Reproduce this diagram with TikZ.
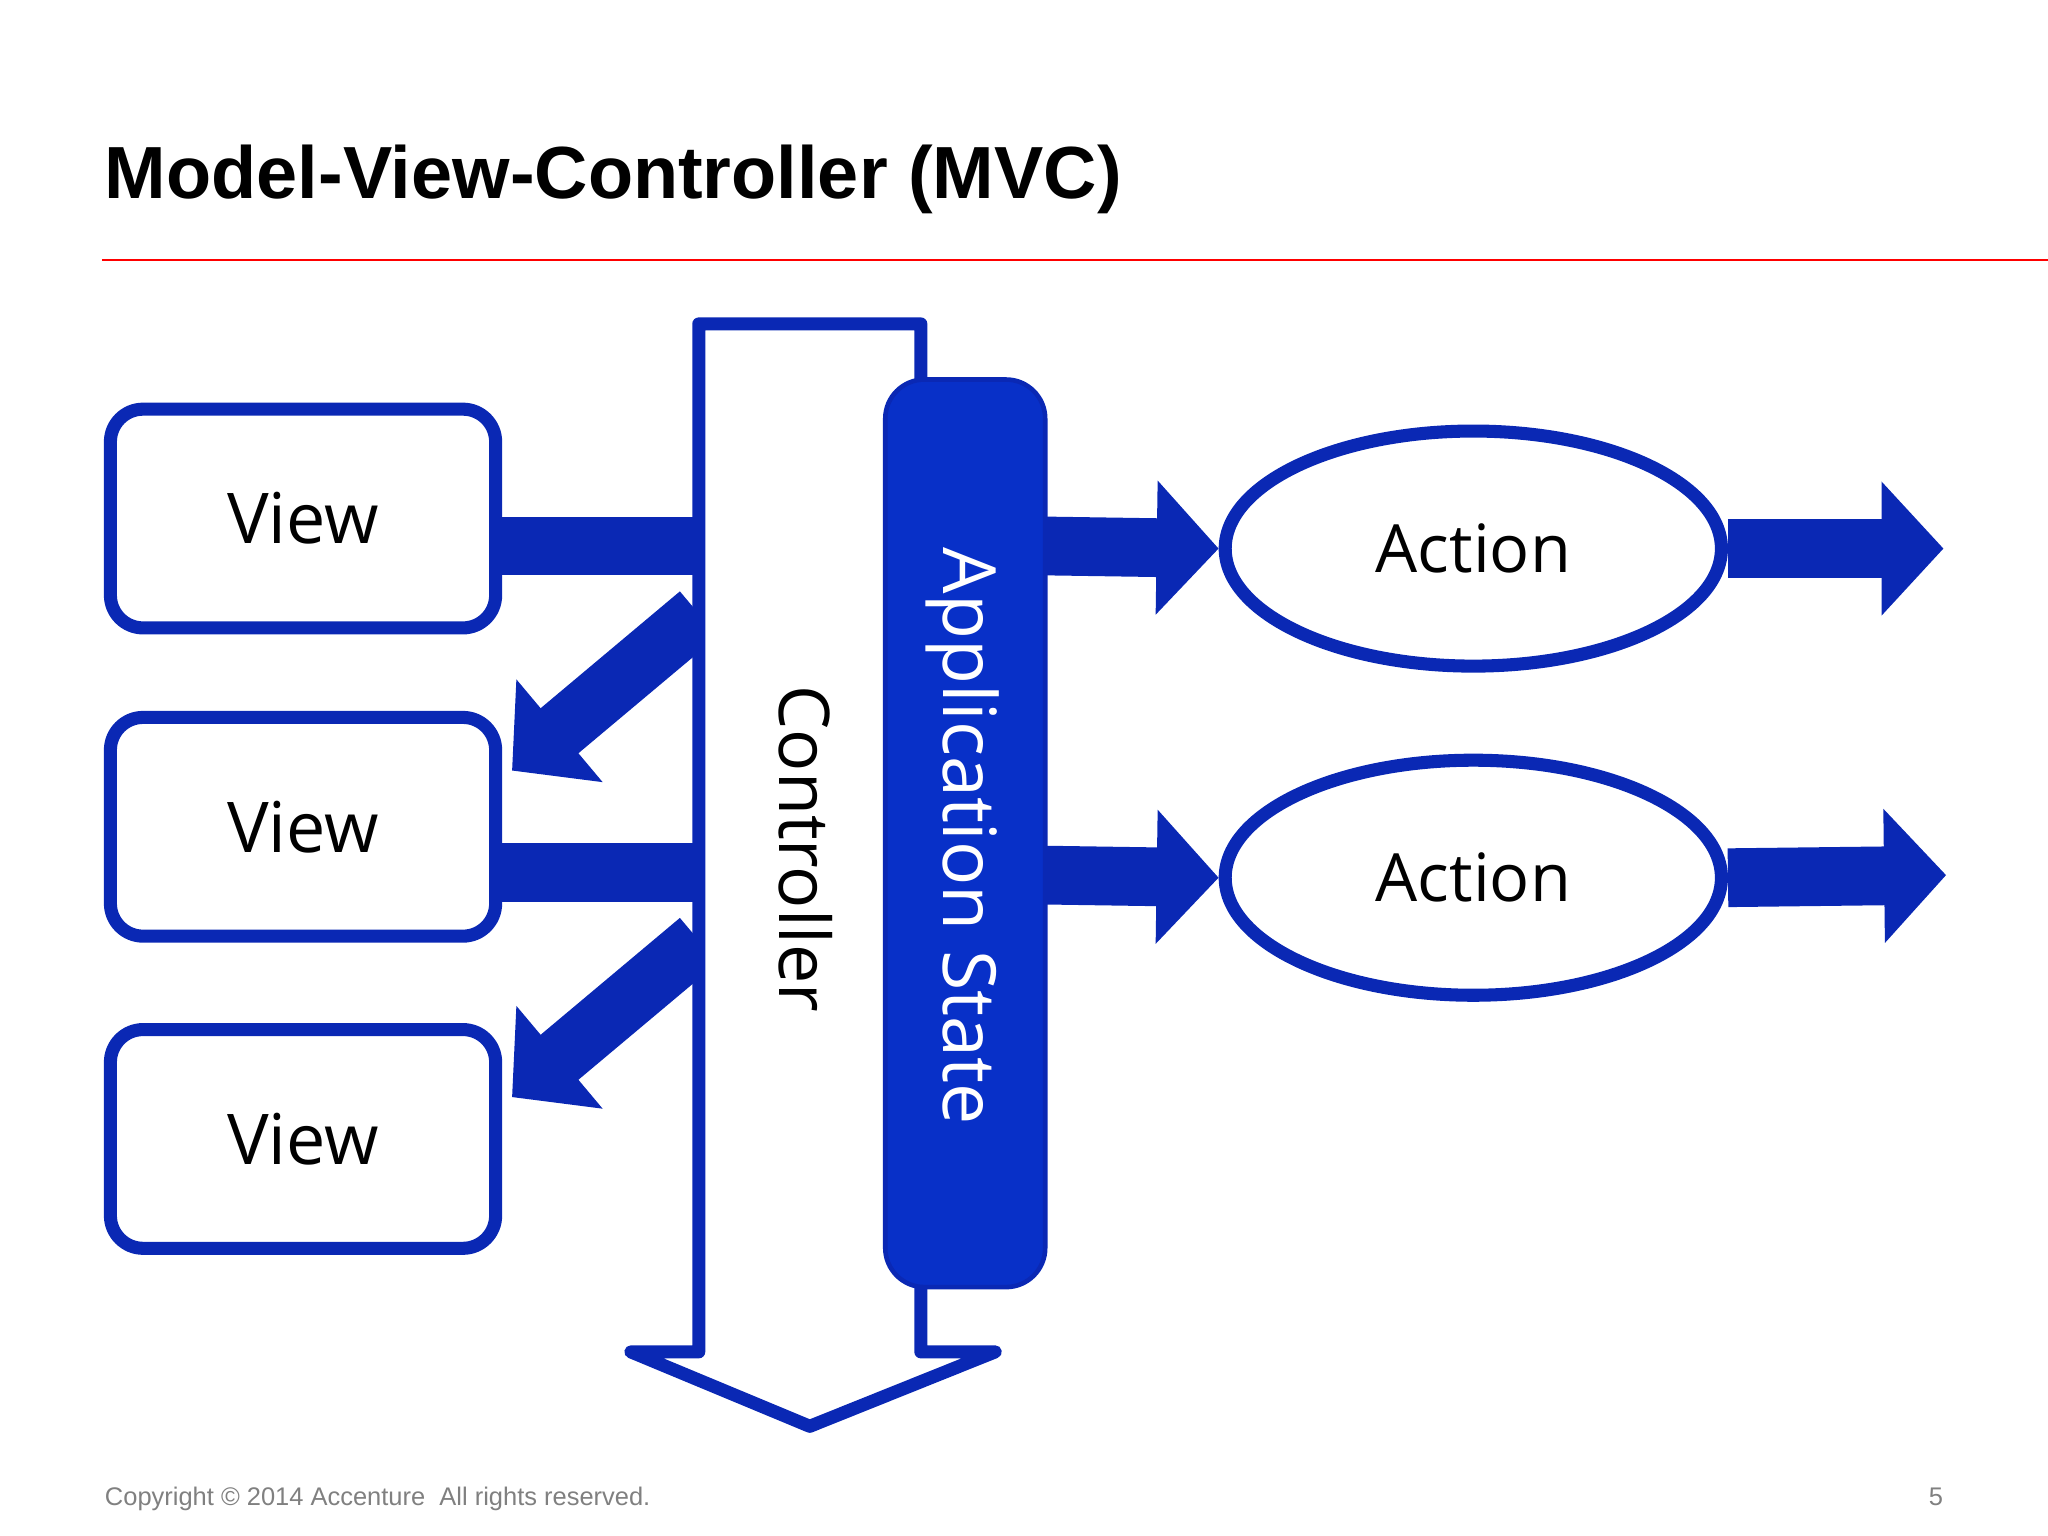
\documentclass[tikz,border=0pt]{standalone}
\usepackage{fontspec}
\setmainfont{Liberation Sans}
\newfontfamily\seg{Open Sans}
\usetikzlibrary{arrows.meta,shapes.geometric}
\definecolor{mvcblue}{RGB}{10,40,180}
\definecolor{appblue}{RGB}{8,48,200}
\begin{document}
\begin{tikzpicture}[x=0.02cm,y=-0.02cm,
  viewbox/.style={draw=mvcblue,line width=0.2cm,fill=white,rounded corners=0.5cm,minimum width=5.9cm,minimum height=3.35cm,font=\seg\fontsize{30.5}{34}\selectfont},
  act/.style={draw=mvcblue,line width=0.2cm,fill=white,ellipse,minimum width=7.6cm,minimum height=3.6cm,font=\seg\fontsize{29}{34}\selectfont},
  bar/.style={mvcblue,line width=0.9cm},
  fat/.style={mvcblue,line width=0.9cm,-{Triangle[width=2cm,length=0.95cm]}}]
\useasboundingbox (0,0) rectangle (1568,1176);
\node[anchor=base west,font=\bfseries\fontsize{32.2}{38}\selectfont,inner sep=0] (title) at (80,152) {Model-View-Controller (MVC)};
\draw[red,line width=1.2pt] (78,199) -- (1568,199);
% bars
\coordinate (c1) at (540,418);
\coordinate (c2) at (540,668);
\coordinate (d1) at (535,470);
\coordinate (d2) at (535,720);
\coordinate (t1) at (392,590);
\coordinate (t2) at (392,840);
\draw[bar] (300,418) -- (c1);
\draw[bar] (300,668) -- (c2);
\draw[fat] (d1) -- (t1);
\draw[fat] (d2) -- (t2);
\node[viewbox] (v1) at (232,397) {View};
\node[viewbox] (v2) at (232,633) {View};
\node[viewbox] (v3) at (232,872) {View};
% controller
\draw[mvcblue,line width=0.2cm,fill=white,line join=round] (535,248) -- (705,248) -- (705,1035) -- (762,1035) -- (620,1092) -- (483,1035) -- (535,1035) -- cycle;
\node[rotate=-90,font=\seg\fontsize{30.5}{34}\selectfont] (ctrl) at (617,650) {Controller};
% app state
\node[fill=appblue,draw=mvcblue,line width=2pt,rounded corners=0.6cm,minimum width=2.45cm,minimum height=13.9cm] (app) at (739,638) {};
\node[rotate=-90,text=white,font=\seg\fontsize{32}{36}\selectfont] (apptext) at (737,640) {Application State};
% actions
\node[act] (a1) at (1128,420) {Action};
\node[act] (a2) at (1128,672) {Action};
\coordinate (o1) at (1488,420);
\coordinate (o2) at (1490,670);
\draw[fat] (800,418) -- (a1.west);
\draw[fat] (800,670) -- (a2.west);
\draw[fat] (a1.east) -- (o1);
\draw[fat] (a2.east) -- (o2);
\node[anchor=base west,text=gray,font=\fontsize{11.1}{14}\selectfont,inner sep=0] (copy) at (80,1153) {Copyright \textcopyright{} 2014 Accenture\ \ All rights reserved.};
\node[anchor=base east,text=gray,font=\fontsize{11.1}{14}\selectfont,inner sep=0] (page) at (1488,1153) {5};
\end{tikzpicture}
\end{document}
